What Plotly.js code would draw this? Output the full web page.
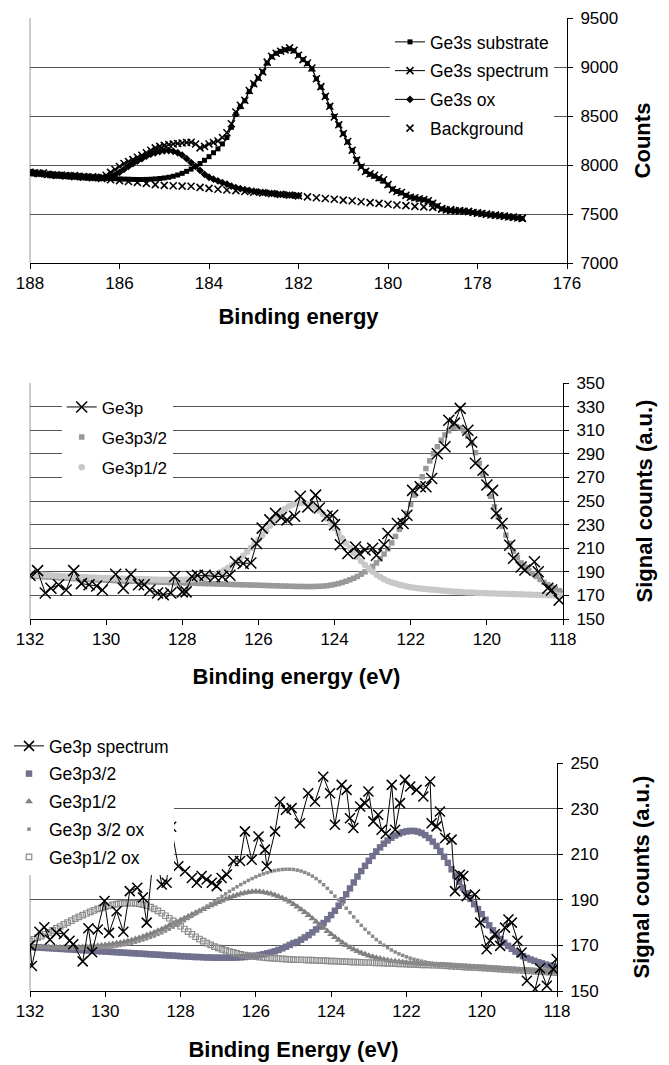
<!DOCTYPE html>
<html><head><meta charset="utf-8">
<script src="https://cdn.plot.ly/plotly-3.0.1.min.js"></script>
<style>html,body{margin:0;padding:0;background:#fff}#chart{width:669px;height:1065px}</style>
</head><body><div id="chart"></div>
<script>
// ---------- Panel 1 : Ge3s ----------
const energy1 = [188,187.9,187.8,187.7,187.6,187.5,187.4,187.3,187.2,187.1,
187,186.9,186.8,186.7,186.6,186.5,186.4,186.3,186.2,186.1,
186,185.9,185.8,185.7,185.6,185.5,185.4,185.3,185.2,185.1,
185,184.9,184.8,184.7,184.6,184.5,184.4,184.3,184.2,184.1,
184,183.9,183.8,183.7,183.6,183.5,183.4,183.3,183.2,183.1,
183,182.9,182.8,182.7,182.6,182.5,182.4,182.3,182.2,182.1,
182,181.9,181.8,181.7,181.6,181.5,181.4,181.3,181.2,181.1,
181,180.9,180.8,180.7,180.6,180.5,180.4,180.3,180.2,180.1,
180,179.9,179.8,179.7,179.6,179.5,179.4,179.3,179.2,179.1,
179,178.9,178.8,178.7,178.6,178.5,178.4,178.3,178.2,178.1,
178,177.9,177.8,177.7,177.6,177.5,177.4,177.3,177.2,177.1,
177];
const ge3sSpectrum = [7925,7920,7915,7918,7905,7900,7895,7898,7892,7890,
7893,7885,7882,7878,7880,7872,7875,7895,7925,7955,
7985,8015,8035,8055,8080,8100,8125,8150,8175,8190,
8200,8210,8215,8220,8225,8230,8232,8215,8175,8190,
8215,8230,8245,8280,8330,8420,8540,8610,8660,8760,
8830,8890,8950,9050,9110,9140,9160,9175,9195,9170,
9120,9075,9040,8990,8880,8800,8700,8600,8490,8410,
8320,8240,8150,8050,7980,7935,7910,7895,7870,7850,
7800,7750,7730,7720,7690,7670,7665,7655,7648,7635,
7610,7580,7548,7540,7535,7533,7530,7528,7525,7515,
7508,7505,7498,7490,7488,7482,7478,7470,7466,7460,
7455];
const ge3sSubstrate = [7922,7918,7914,7912,7905,7900,7896,7895,7890,7888,
7887,7882,7880,7876,7874,7870,7868,7865,7862,7860,
7858,7856,7855,7853,7852,7852,7853,7855,7858,7862,
7868,7875,7885,7898,7915,7935,7958,7985,8015,8048,
8085,8125,8165,8215,8280,8385,8515,8595,8655,8750,
8825,8885,8950,9040,9105,9140,9160,9175,9185,9165,
9120,9075,9035,8980,8880,8795,8700,8600,8495,8410,
8320,8235,8150,8055,7985,7935,7905,7885,7860,7835,
7795,7755,7730,7715,7690,7672,7662,7652,7645,7632,
7610,7582,7552,7542,7536,7532,7530,7527,7523,7515,
7508,7503,7497,7491,7487,7482,7477,7471,7466,7460,
7455];
const ge3sOx = [7922,7916,7912,7910,7903,7898,7895,7894,7889,7886,
7884,7880,7877,7874,7872,7870,7868,7870,7880,7900,
7925,7955,7985,8015,8040,8065,8090,8110,8125,8138,
8145,8148,8140,8125,8100,8065,8025,7985,7945,7905,
7875,7855,7838,7820,7805,7785,7770,7758,7748,7740,
7733,7726,7720,7715,7710,7705,7700,7697,7693,7690,
7687];
const energyBackground = [188,187.8,187.6,187.4,187.2,187,186.8,186.6,186.4,186.2,
186,185.8,185.6,185.4,185.2,185,184.8,184.6,184.4,184.2,
184,183.8,183.6,183.4,183.2,183,182.8,182.6,182.4,182.2,
182,181.8,181.6,181.4,181.2,181,180.8,180.6,180.4,180.2,
180,179.8,179.6,179.4,179.2,179,178.8,178.6,178.4,178.2,
178,177.8,177.6,177.4,177.2,177];
const ge3sBackground = [7922,7912,7903,7895,7888,7882,7876,7870,7862,7850,
7840,7832,7822,7812,7800,7792,7788,7785,7783,7772,
7762,7752,7745,7738,7730,7722,7715,7708,7700,7692,
7685,7675,7666,7658,7650,7642,7635,7625,7616,7608,
7600,7592,7585,7578,7572,7568,7556,7545,7535,7525,
7512,7500,7490,7478,7468,7458];

// ---------- Panels 2 and 3 : Ge3p (common energy grid of the fits) ----------
const energy23 = [132,131.9,131.8,131.7,131.6,131.5,131.4,131.3,131.2,131.1,
131,130.9,130.8,130.7,130.6,130.5,130.4,130.3,130.2,130.1,
130,129.9,129.8,129.7,129.6,129.5,129.4,129.3,129.2,129.1,
129,128.9,128.8,128.7,128.6,128.5,128.4,128.3,128.2,128.1,
128,127.9,127.8,127.7,127.6,127.5,127.4,127.3,127.2,127.1,
127,126.9,126.8,126.7,126.6,126.5,126.4,126.3,126.2,126.1,
126,125.9,125.8,125.7,125.6,125.5,125.4,125.3,125.2,125.1,
125,124.9,124.8,124.7,124.6,124.5,124.4,124.3,124.2,124.1,
124,123.9,123.8,123.7,123.6,123.5,123.4,123.3,123.2,123.1,
123,122.9,122.8,122.7,122.6,122.5,122.4,122.3,122.2,122.1,
122,121.9,121.8,121.7,121.6,121.5,121.4,121.3,121.2,121.1,
121,120.9,120.8,120.7,120.6,120.5,120.4,120.3,120.2,120.1,
120,119.9,119.8,119.7,119.6,119.5,119.4,119.3,119.2,119.1,
119,118.9,118.8,118.7,118.6,118.5,118.4,118.3,118.2,118.1,
118];

// Panel 2 measured spectrum: [binding energy, counts]
const ge3pSpectrum = [[132,187],[131.8,191],[131.6,172],[131.45,176],[131.25,179],[131.05,174.5],[130.85,191],[130.65,180],[130.45,179],[130.25,178],[130.1,174.5],[129.75,188],[129.55,176],[129.35,188],[129.15,179],[129,179],[128.85,174.5],[128.65,172],[128.5,170.5],[128.3,172],[128.2,186],[128,173],[127.9,173],[127.75,186],[127.6,187],[127.4,187],[127.15,186],[126.95,186],[126.75,187],[126.6,198.5],[126.4,197],[126.2,197.5],[126.05,214],[125.9,227],[125.7,234],[125.55,239.5],[125.4,236],[125.25,234],[125.05,237],[124.9,254],[124.7,245],[124.5,255],[124.4,244],[124.2,237],[124.05,238],[124,230],[123.85,213],[123.65,205.5],[123.45,211],[123.35,205.5],[123.2,208.5],[123,210],[122.9,204],[122.7,213],[122.6,222.5],[122.35,231],[122.2,231],[122.1,238],[121.95,259],[121.75,262],[121.6,262],[121.45,269],[121.3,290],[121.1,296],[121,318.5],[120.85,316],[120.7,328.5],[120.5,310],[120.4,300],[120.3,282],[120.1,276],[120,263.5],[119.85,259],[119.75,239.5],[119.6,231],[119.4,212.5],[119.3,201.5],[119.1,194],[119,191.5],[118.75,198.5],[118.65,190],[118.4,176],[118.3,174.5],[118.1,166]];
const ge3p32 = [186.5,186.3,186.1,185.9,185.7,185.5,185.3,185.1,184.9,184.7,
184.5,184.3,184.2,184.0,183.8,183.7,183.5,183.4,183.2,183.1,
182.9,182.8,182.6,182.5,182.4,182.2,182.1,182.0,181.9,181.7,
181.6,181.5,181.4,181.3,181.2,181.1,181.0,180.9,180.8,180.7,
180.6,180.5,180.4,180.3,180.2,180.1,180.0,179.9,179.8,179.7,
179.6,179.5,179.4,179.3,179.2,179.1,179.0,178.9,178.8,178.7,
178.6,178.5,178.4,178.3,178.2,178.1,178.0,177.9,177.8,177.7,
177.6,177.6,177.5,177.5,177.5,177.6,177.7,177.9,178.2,178.7,
179.3,180.0,180.9,182.0,183.2,184.5,186,188,190,192,
194.5,197.5,201,205,209.5,214.5,220,226,232.5,239.5,
247,255,263,270.5,277.5,284,290,296,301.5,306,
309.5,312.5,313,312,309.5,305,299,291,282,272.5,
263,254,245,236.5,228.5,221,214,207.5,202,197.5,
194,191,188.5,186,183.5,181,179,177,175.5,174,
172.5];
const ge3p12 = [188.0,187.8,187.6,187.4,187.2,187.0,186.8,186.6,186.4,186.2,
186.1,185.9,185.8,185.6,185.5,185.3,185.2,185.1,184.9,184.8,
184.7,184.6,184.5,184.4,184.3,184.2,184.1,184.0,183.9,183.8,
183.7,183.6,183.5,183.4,183.3,183.3,183.2,183.2,183.2,183.2,
183.3,183.4,183.5,183.7,184.0,184.4,185.0,185.8,186.8,188.1,
189.6,191.3,193.2,195.4,197.8,200.5,203.5,206.8,210.2,213.6,
217.2,221.0,225.0,229.0,233.0,236.8,240.2,243.2,245.5,247.0,
248.0,248.4,248.3,247.6,246.3,244.4,241.9,238.8,235.2,231.2,
227.0,222.7,218.4,214.2,210.1,206.2,202.5,199.0,195.7,192.7,
190.0,187.6,185.5,183.7,182.2,181.0,180.0,179.1,178.3,177.6,
177.0,176.5,176.1,175.7,175.4,175.1,174.8,174.5,174.2,173.9,
173.6,173.3,173.1,172.9,172.7,172.5,172.4,172.2,172.1,172.0,
171.8,171.7,171.6,171.5,171.4,171.3,171.2,171.1,171.0,170.9,
170.8,170.7,170.6,170.5,170.4,170.3,170.2,170.1,170.0,169.9,
169.8];

// Panel 3 measured spectrum: [binding energy, counts]
const ge3pSpectrumOx = [[132,170],[131.95,161],[131.75,176],[131.62,178],[131.47,172.5],[131.3,175.5],[131.1,175],[130.95,172],[130.85,170.5],[130.6,163],[130.45,177.5],[130.35,167],[130.2,177],[130.02,189.5],[129.9,175.5],[129.7,185],[129.52,176],[129.35,193.8],[129.15,195.3],[129,191],[128.9,180],[128.72,210],[128.6,206],[128.5,196.7],[128.37,197.5],[128.25,222],[128.06,204.7],[127.88,202.5],[127.7,199.6],[127.57,197.5],[127.44,200.4],[127.31,198.9],[127.17,197.5],[127.04,196],[126.91,199.6],[126.77,201.1],[126.6,207],[126.42,207],[126.29,220],[126.11,207.6],[125.93,217.8],[125.76,212],[125.71,204.7],[125.49,220],[125.36,233],[125.2,229.5],[125.05,230.2],[124.83,223.6],[124.61,236.7],[124.43,233.1],[124.21,244],[124.03,236.7],[123.9,222.9],[123.72,240.4],[123.59,238.2],[123.5,225.8],[123.41,221.5],[123.23,230.9],[123.1,232.4],[123.01,237.5],[122.88,224.4],[122.75,227.3],[122.66,220.7],[122.55,219],[122.39,240.4],[122.3,220.7],[122.17,232.4],[122.04,242.6],[121.9,239.7],[121.73,238.2],[121.55,235.3],[121.37,241.9],[121.33,223.6],[121.2,222.2],[121.11,228.7],[120.97,217.1],[120.8,216.4],[120.71,193.8],[120.58,201],[120.49,200.4],[120.4,191.6],[120.18,192.3],[120.04,180],[119.87,168.3],[119.78,172],[119.65,175],[119.51,169.8],[119.38,177.8],[119.29,181.4],[119.2,180],[119.05,172],[118.94,166.9],[118.8,154.5],[118.58,150.9],[118.45,160],[118.27,152.3],[118.1,159.6],[118.01,164]];
const ge3p32b = [169.3,169.2,169.1,169.0,168.9,168.8,168.7,168.6,168.5,168.4,
168.3,168.2,168.1,168.0,167.9,167.8,167.7,167.6,167.5,167.4,
167.3,167.2,167.1,167.0,166.9,166.8,166.7,166.6,166.5,166.4,
166.3,166.2,166.1,166.0,165.9,165.8,165.7,165.6,165.5,165.4,
165.3,165.2,165.1,165.0,164.9,164.9,164.8,164.7,164.7,164.6,
164.6,164.6,164.6,164.6,164.6,164.7,164.8,164.9,165.1,165.3,
165.5,165.8,166.1,166.5,166.9,167.4,168.0,168.7,169.4,170.2,
171.0,171.5,172.5,173.5,174.5,175.7,177.0,178.3,179.8,181.5,
183.3,185.2,187.4,189.8,192.4,195.0,197.6,200.2,202.6,204.9,
207.1,209.2,211.2,213.0,214.6,216.0,217.2,218.2,219.0,219.6,
220.0,220.2,220.2,219.9,219.3,218.4,217.1,215.5,213.6,211.4,
208.9,206.2,203.4,200.6,197.9,195.3,192.8,190.4,188.1,185.9,
183.7,181.2,178.8,176.6,174.6,172.8,171.2,169.8,168.5,167.3,
166.2,165.3,164.5,163.8,163.2,162.6,162.1,161.6,161.2,160.8,
160.5];
const ge3p12b = [169.5,169.4,169.3,169.3,169.2,169.2,169.1,169.1,169.1,169.1,
169.1,169.1,169.2,169.2,169.3,169.4,169.5,169.7,169.9,170.0,
170.2,170.4,170.6,170.9,171.2,171.5,171.9,172.3,172.8,173.3,
173.8,174.4,175.0,175.7,176.4,177.1,177.9,178.7,179.5,180.3,
181.1,181.9,182.7,183.5,184.3,185.1,185.9,186.7,187.5,188.2,
188.9,189.6,190.3,191.0,191.6,192.1,192.6,193.0,193.3,193.5,
193.6,193.5,193.3,193.0,192.6,192.1,191.5,190.8,190.0,189.1,
188.1,187.0,185.8,184.5,183.2,181.8,180.4,179.0,177.6,176.2,
174.9,173.6,172.4,171.2,170.1,169.1,168.2,167.4,166.7,166.1,
165.5,165.0,164.6,164.2,163.8,163.5,163.2,163.0,162.8,162.6,
162.4,162.3,162.1,162.0,161.9,161.8,161.7,161.6,161.5,161.4,
161.3,161.2,161.1,161.0,160.9,160.8,160.7,160.6,160.5,160.4,
160.3,160.2,160.1,160.0,159.9,159.8,159.7,159.6,159.5,159.4,
159.3,159.2,159.1,159.0,158.9,158.8,158.7,158.6,158.5,158.4,
158.3];
const ge3p32ox = [169.5,169.4,169.3,169.2,169.1,169.0,168.9,168.9,168.8,168.8,
168.7,168.7,168.7,168.7,168.7,168.7,168.8,168.8,168.9,169.0,
169.1,169.3,169.5,169.7,170.0,170.3,170.6,171.0,171.4,171.9,
172.4,172.9,173.5,174.1,174.8,175.5,176.3,177.1,178.0,178.9,
179.8,180.8,181.8,182.8,183.8,184.9,186.0,187.1,188.2,189.3,
190.4,191.5,192.6,193.7,194.7,195.7,196.7,197.6,198.5,199.3,
200.1,200.8,201.4,201.9,202.4,202.8,203.1,203.3,203.4,203.4,
203.3,203.0,202.6,202.0,201.3,200.4,199.3,198.0,196.6,195.0,
193.3,191.6,189.9,188.1,186.3,184.4,182.5,180.6,178.8,177.1,
175.5,174.0,172.6,171.3,170.1,169.0,168.0,167.1,166.3,165.6,
165.0,164.4,163.9,163.5,163.1,162.7,162.4,162.1,161.8,161.6,
161.4,161.2,161.0,160.9,160.8,160.6,160.5,160.4,160.3,160.2,
160.1,160.0,159.9,159.8,159.7,159.6,159.5,159.4,159.3,159.2,
159.1,159.0,158.9,158.8,158.7,158.6,158.5,158.4,158.3,158.2,
158.1];
const ge3p12ox = [172.0,172.7,173.4,174.1,174.9,175.7,176.6,177.5,178.3,179.2,
180.0,180.9,181.7,182.5,183.3,184.0,184.7,185.4,186.0,186.5,
187.0,187.4,187.8,188.1,188.3,188.4,188.5,188.5,188.4,188.2,
187.9,187.4,186.8,186.0,185.1,184.1,183.0,181.9,180.8,179.6,
178.4,177.2,176.0,174.9,173.8,172.8,171.9,171.0,170.2,169.5,
168.9,168.3,167.8,167.3,166.9,166.5,166.1,165.8,165.5,165.3,
165.1,164.9,164.7,164.5,164.4,164.3,164.2,164.1,164.0,163.9,
163.8,163.7,163.7,163.6,163.5,163.5,163.4,163.3,163.3,163.2,
163.1,163.1,163.0,162.9,162.9,162.8,162.7,162.7,162.6,162.5,
162.5,162.4,162.3,162.3,162.2,162.1,162.1,162.0,161.9,161.9,
161.8,161.7,161.7,161.6,161.5,161.5,161.4,161.3,161.3,161.2,
161.1,161.0,160.9,160.8,160.7,160.6,160.5,160.4,160.3,160.2,
160.1,160.0,159.9,159.8,159.7,159.6,159.5,159.4,159.3,159.2,
159.1,159.0,158.9,158.8,158.7,158.6,158.5,158.4,158.3,158.2,
158.1];

// axis tick settings
const xTicks1 = {range:[188,176], dtick:2};
const yTicks1 = {range:[7000,9500], dtick:500};
const xTicks23 = {range:[132,118], dtick:2};
const yTicks2 = {range:[150,350], dtick:20};
const yTicks3 = {range:[150,250], dtick:20};

// ---------- layout helpers (pixel -> paper) ----------
const W = 669, H = 1065;
const FONT = 'Arial, "Liberation Sans", sans-serif';
const px = v => v / W;
const py = v => 1 - v / H;

function xAxis(domain, anchor, ticks, title, standoff) {
  return {domain, anchor, range: ticks.range, dtick: ticks.dtick, tick0: ticks.range[1],
    ticks: 'outside', ticklen: 5, tickcolor: '#000', tickwidth: 1,
    showline: true, linecolor: '#000', linewidth: 1, showgrid: false, zeroline: false,
    tickfont: {family: FONT, size: 17, color: '#000'}, automargin: false,
    title: {text: title, standoff, font: {family: FONT, size: 22, color: '#000', weight: 'bold'}}};
}
function yAxis(domain, anchor, ticks, title, standoff) {
  return {domain, anchor, side: 'right', range: ticks.range, dtick: ticks.dtick, tick0: ticks.range[0],
    ticks: 'outside', ticklen: 5, tickcolor: '#000', tickwidth: 1, ticklabelstandoff: 4,
    showline: true, linecolor: '#000', linewidth: 1, showgrid: true, gridcolor: '#555', gridwidth: 1,
    zeroline: false, tickfont: {family: FONT, size: 17, color: '#000'}, automargin: false,
    title: {text: title, standoff, font: {family: FONT, size: 22, color: '#000', weight: 'bold'}}};
}
const xThin = (size, w, color) => ({symbol: 'x-thin', size, color, line: {color, width: w}});

const traces = [
  // panel 1
  {x: energy1, y: ge3sSubstrate, name: 'Ge3s substrate', mode: 'lines+markers', xaxis: 'x', yaxis: 'y',
   legend: 'legend', legendgroup: 'a1', line: {color: '#000', width: 1}, marker: {symbol: 'square', size: 5, color: '#000'}},
  {x: energy1, y: ge3sSpectrum, name: 'Ge3s spectrum', mode: 'lines+markers', xaxis: 'x', yaxis: 'y',
   legend: 'legend', legendgroup: 'a2', line: {color: '#000', width: 1}, marker: xThin(7, 1.5, '#000')},
  {x: energy1.slice(0, ge3sOx.length), y: ge3sOx, name: 'Ge3s ox', mode: 'lines+markers', xaxis: 'x', yaxis: 'y',
   legend: 'legend', legendgroup: 'a3', line: {color: '#000', width: 1}, marker: {symbol: 'diamond', size: 6, color: '#000'}},
  {x: energyBackground, y: ge3sBackground, name: 'Background', mode: 'markers', xaxis: 'x', yaxis: 'y',
   legend: 'legend', legendgroup: 'a4', marker: xThin(7, 1.6, '#000')},
  // panel 2
  {x: energy23, y: ge3p32, name: 'Ge3p3/2', mode: 'markers', xaxis: 'x2', yaxis: 'y2',
   legend: 'legend2', legendgroup: 'b2', legendrank: 2, marker: {symbol: 'square', size: 5.5, color: '#999999'}},
  {x: energy23, y: ge3p12, name: 'Ge3p1/2', mode: 'markers', xaxis: 'x2', yaxis: 'y2',
   legend: 'legend2', legendgroup: 'b3', legendrank: 3, marker: {symbol: 'circle', size: 6.5, color: '#c8c8c8'}},
  {x: ge3pSpectrum.map(p => p[0]), y: ge3pSpectrum.map(p => p[1]), name: 'Ge3p', mode: 'lines+markers',
   xaxis: 'x2', yaxis: 'y2', legend: 'legend2', legendgroup: 'b1', legendrank: 1,
   line: {color: '#000', width: 1}, marker: xThin(11, 1.5, '#000')},
  // panel 3
  {x: energy23, y: ge3p32b, name: 'Ge3p3/2', mode: 'markers', xaxis: 'x3', yaxis: 'y3',
   legend: 'legend3', legendgroup: 'c2', legendrank: 2, marker: {symbol: 'square', size: 6.5, color: '#71718f'}},
  {x: energy23, y: ge3p12b, name: 'Ge3p1/2', mode: 'markers', xaxis: 'x3', yaxis: 'y3',
   legend: 'legend3', legendgroup: 'c3', legendrank: 3, marker: {symbol: 'triangle-up', size: 7, color: '#808080'}},
  {x: energy23, y: ge3p32ox, name: 'Ge3p 3/2 ox', mode: 'markers', xaxis: 'x3', yaxis: 'y3',
   legend: 'legend3', legendgroup: 'c4', legendrank: 4, marker: {symbol: 'square', size: 3.5, color: '#8c8c8c'}},
  {x: energy23, y: ge3p12ox, name: 'Ge3p1/2 ox', mode: 'markers', xaxis: 'x3', yaxis: 'y3',
   legend: 'legend3', legendgroup: 'c5', legendrank: 5,
   marker: {symbol: 'square-open', size: 5.5, color: '#8c8c8c', line: {width: 1.2, color: '#8c8c8c'}}},
  {x: ge3pSpectrumOx.map(p => p[0]), y: ge3pSpectrumOx.map(p => p[1]), name: 'Ge3p spectrum', mode: 'lines+markers',
   xaxis: 'x3', yaxis: 'y3', legend: 'legend3', legendgroup: 'c1', legendrank: 1,
   line: {color: '#000', width: 1}, marker: xThin(10, 1.5, '#000')}
];

const legendBase = {xanchor: 'left', yanchor: 'top', bgcolor: '#fff', borderwidth: 0, traceorder: 'grouped'};
const leftBorder = (xr, yr) => ({type: 'line', xref: xr + ' domain', yref: yr + ' domain', x0: 0, x1: 0, y0: 0, y1: 1,
  line: {color: '#9a9a9a', width: 1}, layer: 'below'});

const layout = {
  width: W, height: H, margin: {l: 0, r: 0, t: 0, b: 0},
  paper_bgcolor: '#fff', plot_bgcolor: '#fff', showlegend: true,
  font: {family: FONT, color: '#000'},
  xaxis: xAxis([px(30), px(567)], 'y', xTicks1, 'Binding energy', 16),
  yaxis: yAxis([py(263), py(18)], 'x', yTicks1, 'Counts', 17),
  xaxis2: xAxis([px(30), px(563)], 'y2', xTicks23, 'Binding energy (eV)', 20),
  yaxis2: yAxis([py(619), py(383)], 'x2', yTicks2, 'Signal counts (a.u.)', 32),
  xaxis3: xAxis([px(30), px(557)], 'y3', xTicks23, 'Binding Energy (eV)', 21),
  yaxis3: yAxis([py(991), py(763)], 'x3', yTicks3, 'Signal counts (a.u.)', 35),
  legend: Object.assign({}, legendBase, {x: px(390), y: py(24), tracegroupgap: 3, font: {family: FONT, size: 17.5, color: '#000'}}),
  legend2: Object.assign({}, legendBase, {x: px(61.7), y: py(389.4), tracegroupgap: 5, font: {family: FONT, size: 17, color: '#000'}}),
  legend3: Object.assign({}, legendBase, {x: px(9), y: py(728), tracegroupgap: 2, font: {family: FONT, size: 17.5, color: '#000'}}),
  shapes: [leftBorder('x', 'y'), leftBorder('x2', 'y2'), leftBorder('x3', 'y3')]
};

Plotly.newPlot('chart', traces, layout, {staticPlot: true, displayModeBar: false});
</script></body></html>
